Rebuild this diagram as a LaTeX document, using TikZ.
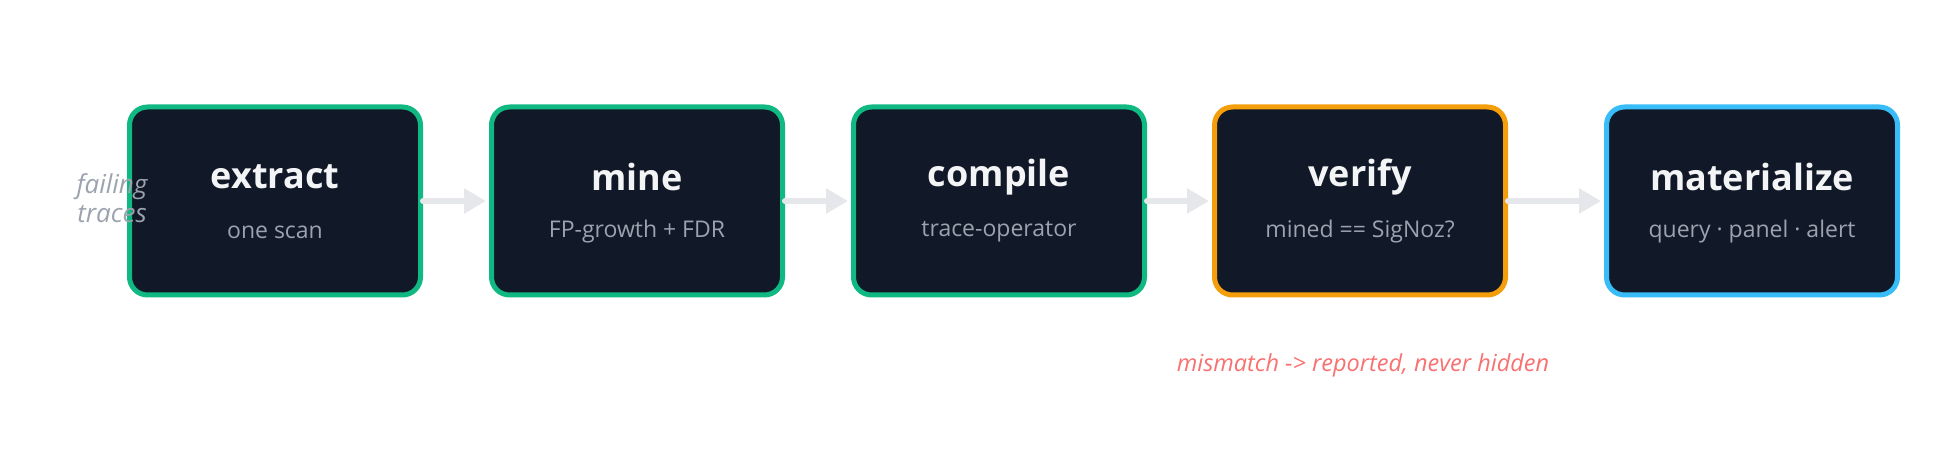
\documentclass[tikz,border=0pt]{standalone}
\usepackage{fontspec}
\setmainfont{Open Sans}
\usetikzlibrary{arrows.meta}
\definecolor{boxfill}{HTML}{111827}
\definecolor{okgreen}{HTML}{10B981}
\definecolor{warnorange}{HTML}{F59E0B}
\definecolor{skyblue}{HTML}{38BDF8}
\definecolor{arrowgray}{HTML}{E5E7EB}
\definecolor{titlewhite}{HTML}{F3F4F6}
\definecolor{subgray}{HTML}{9CA3AF}
\definecolor{alertred}{HTML}{F87171}

\begin{document}
\begin{tikzpicture}[x=1pt,y=-1pt,
  stage/.style={draw=#1,line width=5pt,fill=boxfill,rounded corners=18pt,minimum width=291pt,minimum height=188pt},
  flow/.style={line width=6pt,draw=arrowgray,line cap=round,shorten >=3pt,-{Triangle[length=22pt,width=24pt]}},
  title/.style={text=titlewhite,font=\bfseries\fontsize{36}{40}\selectfont},
  sub/.style={text=subgray,font=\fontsize{23}{27}\selectfont}]
\useasboundingbox (0,0) rectangle (1952,462);

\foreach \n/\x/\c/\t/\s in {ext/275/okgreen/extract/one scan, mine/637/okgreen/mine/FP-growth + FDR,
  comp/999/okgreen/compile/trace-operator, verif/1360/warnorange/verify/mined == SigNoz?,
  mat/1752/skyblue/materialize/query · panel · alert}{
\node[stage=\c] (\n) at (\x,201) {};
\node[title] (\n-t) at (\x,177) {\t};
\node[sub] (\n-s) at (\x,232) {\s};
}

\foreach \a/\b in {ext/mine,mine/comp,comp/verif,verif/mat}{
\draw[flow] (\a) -- (\b);
}

\node[text=subgray,font=\itshape\fontsize{26}{29}\selectfont,align=center] (input) at (112,198) {failing\\traces};
\node[text=alertred,font=\itshape\fontsize{23.5}{27}\selectfont] (note) at (1363,365) {mismatch -> reported, never hidden};
\end{tikzpicture}
\end{document}
